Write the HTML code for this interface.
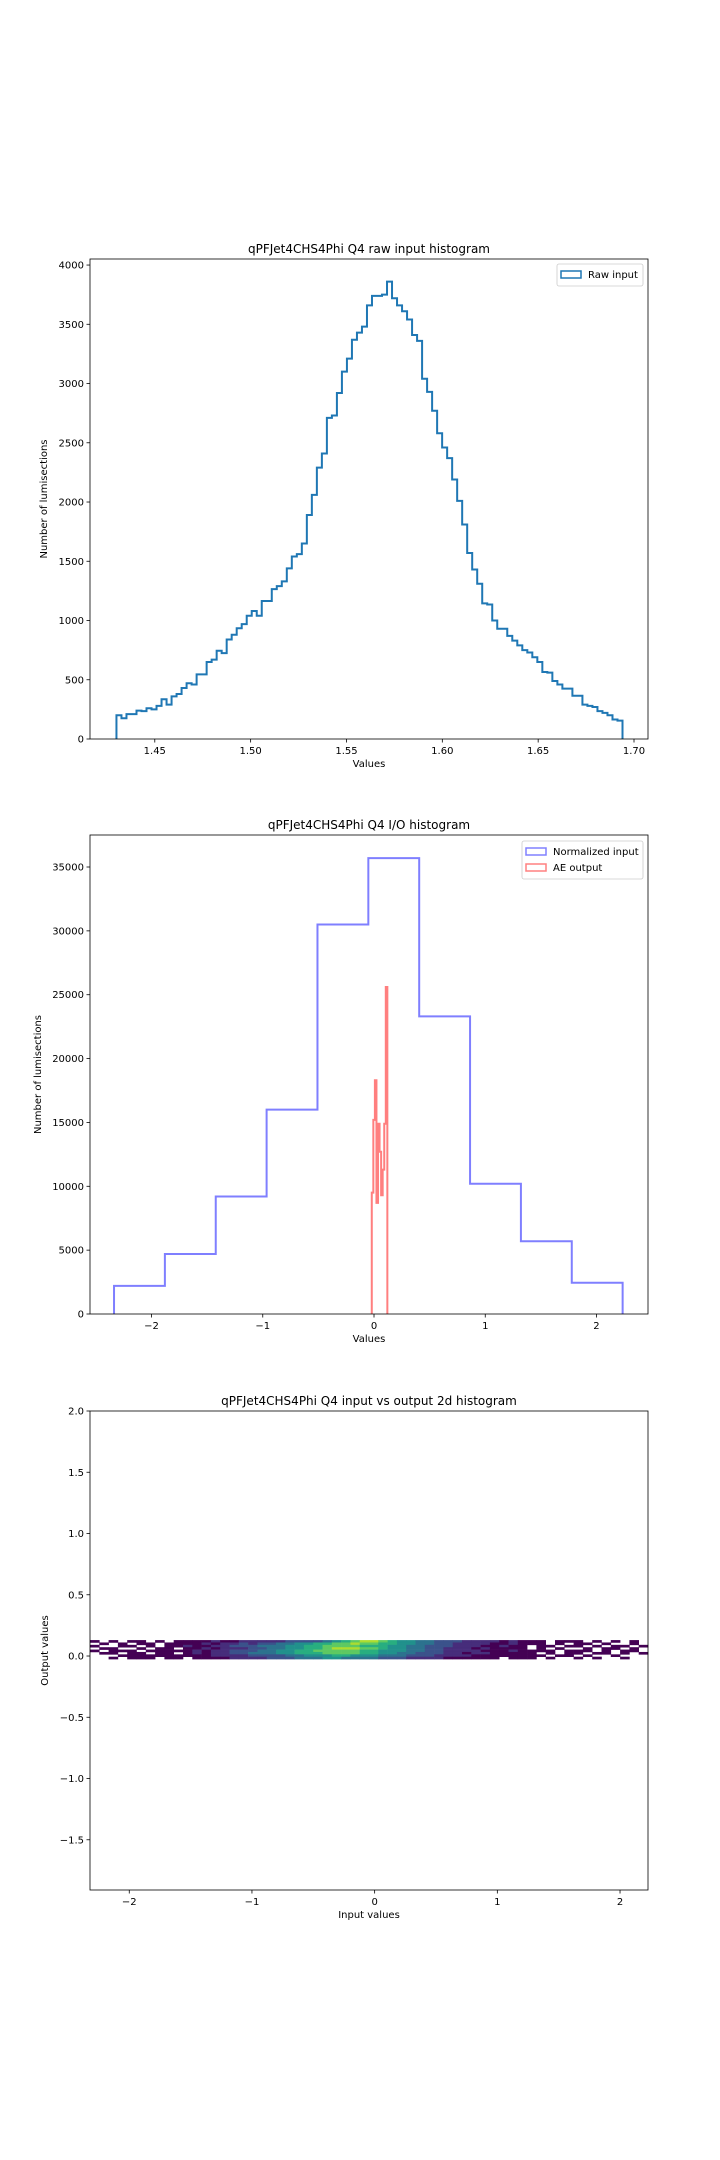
<!DOCTYPE html>
<html><head><meta charset="utf-8">
<style>
html,body{margin:0;padding:0;background:#fff;}
svg{display:block;font-family:"DejaVu Sans","Liberation Sans",sans-serif;}
</style></head>
<body>
<svg id="fig" width="720" height="2160" viewBox="0 0 720 2160" xmlns="http://www.w3.org/2000/svg">
<rect x="0" y="0" width="720" height="2160" fill="#fff"/>
<g id="c1"></g>
<g id="c2"></g>
<g id="c3"></g>
</svg>
<script>
// ---- Chart 1 data ----
const rawCounts = [200,175,210,210,240,235,260,250,280,335,290,360,380,430,470,460,545,545,650,670,745,725,840,880,935,970,1040,1080,1040,1165,1165,1265,1290,1330,1440,1540,1560,1650,1890,2060,2290,2410,2710,2730,2920,3100,3210,3370,3430,3480,3660,3740,3740,3750,3860,3720,3660,3610,3540,3410,3360,3040,2930,2770,2580,2460,2370,2190,2010,1810,1570,1430,1310,1145,1135,1000,930,930,870,830,790,750,730,690,650,565,560,490,460,425,425,365,365,290,280,270,235,220,200,165,155];
const rawRange = [1.430, 1.694];
const c1XTicks = [1.45,1.50,1.55,1.60,1.65,1.70];
const c1XTickLabels = ["1.45","1.50","1.55","1.60","1.65","1.70"];
const c1YTicks = [0,500,1000,1500,2000,2500,3000,3500,4000];
// ---- Chart 2 data ----
const normCounts = [2200,4700,9200,16000,30500,35700,23300,10200,5700,2450];
const normRange = [-2.337, 2.235];
const aeCounts = [9500,15200,18300,8700,14900,12700,9300,11300,14900,25600];
const aeRange = [-0.02, 0.12];
const c2XTicks = [-2,-1,0,1,2];
const c2XTickLabels = ["\u22122","\u22121","0","1","2"];
const c2YTicks = [0,5000,10000,15000,20000,25000,30000,35000];
// ---- Chart 3 data (rows top->bottom, digit = color level, 0 = empty) ----
const heatRows = [
"101011010111121122222333345678876554433322221211101110101010",
"010101101111212232334455667787766554433222211211101011010010",
"100110101121122333444556677776665544333222112110110110101101",
"011001011011212223344556678887765544332221211110101001011010",
"101110111112122333445566777776655544332222111211110111010110",
"011011011012122334445566677776655443332212211111010110110101",
"000111111111122223333445556655544433322221111111101101001000",
"001011101101111222233344455444433322221111110111010010100100"
];
const heatXRange = [-2.32, 2.228];
const heatYRange = [-0.025, 0.13];
const c3XTicks = [-2,-1,0,1,2];
const c3XTickLabels = ["\u22122","\u22121","0","1","2"];
const c3YTicks = [-1.5,-1.0,-0.5,0.0,0.5,1.0,1.5,2.0];
const c3YTickLabels = ["\u22121.5","\u22121.0","\u22120.5","0.0","0.5","1.0","1.5","2.0"];
const viridis = ["","#440154","#472d7b","#3b528b","#2c728e","#21918c","#28ae80","#5ec962","#addc30","#fde725"];

const NS="http://www.w3.org/2000/svg";
function mk(parent,tag,attrs,text){
  const e=document.createElementNS(NS,tag);
  for(const k in attrs) e.setAttribute(k,attrs[k]);
  if(text!==undefined) e.textContent=text;
  parent.appendChild(e); return e;
}
function scale(d0,d1,r0,r1){return v=>r0+(v-d0)/(d1-d0)*(r1-r0);}

function axesFrame(g,L,T,R,B,sx,sy,xt,xtl,yt,ytl,title,xlabel,ylabel,ylx){
  const t=mk(g,'text',{x:(L+R)/2,y:T-6,'text-anchor':'middle','font-size':'12',fill:'#000'},title);
  
  
  xt.forEach((v,i)=>{
    const x=sx(v);
    const tk=mk(g,'line',{x1:x,y1:B,x2:x,y2:B+3.5,stroke:'#000','stroke-width':0.8});
    
    
    const tl=mk(g,'text',{x:x,y:B+15,'text-anchor':'middle','font-size':'10',fill:'#000'},xtl[i]);
    
    
  });
  yt.forEach((v,i)=>{
    const y=sy(v);
    const tk=mk(g,'line',{x1:L-3.5,y1:y,x2:L,y2:y,stroke:'#000','stroke-width':0.8});
    
    
    const tl=mk(g,'text',{x:L-6,y:y+3.5,'text-anchor':'end','font-size':'10',fill:'#000'},ytl[i]);
    
    
  });
  const xl=mk(g,'text',{x:(L+R)/2,y:B+28,'text-anchor':'middle','font-size':'10',fill:'#000'},xlabel);
  
  
  const cy=(T+B)/2;
  const yl=mk(g,'text',{x:ylx,y:cy,'text-anchor':'middle','font-size':'10',fill:'#000',transform:`rotate(-90 ${ylx} ${cy})`},ylabel);
  
  
  const fr=mk(g,'rect',{x:L,y:T,width:R-L,height:B-T,fill:'none',stroke:'#000','stroke-width':0.8});
  
  
}
function stepPath(counts,range,sx,sy){
  const n=counts.length,w=(range[1]-range[0])/n;
  let d=`M${sx(range[0])},${sy(0)}`;
  counts.forEach((c,i)=>{
    const x0=sx(range[0]+i*w),x1=sx(range[0]+(i+1)*w);
    d+=` L${x0},${sy(c)} L${x1},${sy(c)}`;
  });
  d+=` L${sx(range[1])},${sy(0)}`;
  return d;
}
function legend(g,x,y,w,items){
  const h=items.length*16+6;
  const b=mk(g,'rect',{x:x,y:y,width:w,height:h,rx:2,fill:'#fff','fill-opacity':0.8,stroke:'#ccc','stroke-width':0.8});
  
  
  items.forEach((it,i)=>{
    const cy=y+10+i*16;
    const r=mk(g,'rect',{x:x+4,y:cy-3,width:20,height:7,fill:'none',stroke:it.c,'stroke-width':1.5});
    
    
    const t=mk(g,'text',{x:x+31,y:cy+4,'font-size':'10',fill:'#000'},it.t);
    
    
  });
}

// Chart 1
(function(){
  const g=document.getElementById('c1');
  const L=90,R=648,T=259,B=739;
  const sx=scale(1.4162,1.7073,L,R), sy=scale(0,4051,B,T);
  const p=mk(g,'path',{d:stepPath(rawCounts,rawRange,sx,sy),fill:'none',stroke:'#1f77b4','stroke-width':2});
  
  
  axesFrame(g,L,T,R,B,sx,sy,c1XTicks,c1XTickLabels,c1YTicks,c1YTicks.map(String),
    'qPFJet4CHS4Phi Q4 raw input histogram','Values','Number of lumisections',47);
  legend(g,557,264,86,[{c:'#1f77b4',t:'Raw input'}]);
})();

// Chart 2
(function(){
  const g=document.getElementById('c2');
  const L=90,R=648,T=835,B=1314;
  const sx=scale(-2.553,2.463,L,R), sy=scale(0,37506,B,T);
  const p=mk(g,'path',{d:stepPath(normCounts,normRange,sx,sy),fill:'none',stroke:'#0000ff','stroke-opacity':0.5,'stroke-width':2});
  
  
  const q=mk(g,'path',{d:stepPath(aeCounts,aeRange,sx,sy),fill:'none',stroke:'#ff0000','stroke-opacity':0.5,'stroke-width':2});
  
  
  axesFrame(g,L,T,R,B,sx,sy,c2XTicks,c2XTickLabels,c2YTicks,c2YTicks.map(String),
    'qPFJet4CHS4Phi Q4 I/O histogram','Values','Number of lumisections',41);
  legend(g,522,841,121,[{c:'#8080ff',t:'Normalized input'},{c:'#ff8080',t:'AE output'}]);
})();

// Chart 3
(function(){
  const g=document.getElementById('c3');
  const L=90,R=648,T=1411,B=1890;
  const sx=scale(-2.32,2.228,L,R), sy=scale(-1.91,2.0,B,T);
  const nr=heatRows.length, nc=heatRows[0].length;
  const cw=(heatXRange[1]-heatXRange[0])/nc, ch=(heatYRange[1]-heatYRange[0])/nr;
  heatRows.forEach((row,ri)=>{
    for(let ci=0;ci<nc;ci++){
      const lv=+row[ci]; if(!lv) continue;
      const x0=sx(heatXRange[0]+ci*cw), x1=sx(heatXRange[0]+(ci+1)*cw);
      const y0=sy(heatYRange[1]-ri*ch), y1=sy(heatYRange[1]-(ri+1)*ch);
      const r=mk(g,'rect',{x:x0,y:y0,width:x1-x0+0.3,height:y1-y0+0.3,fill:viridis[lv]});
      
      
    }
  });
  axesFrame(g,L,T,R,B,sx,sy,c3XTicks,c3XTickLabels,c3YTicks,c3YTickLabels,
    'qPFJet4CHS4Phi Q4 input vs output 2d histogram','Input values','Output values',48);
})();
</script>
</body></html>
